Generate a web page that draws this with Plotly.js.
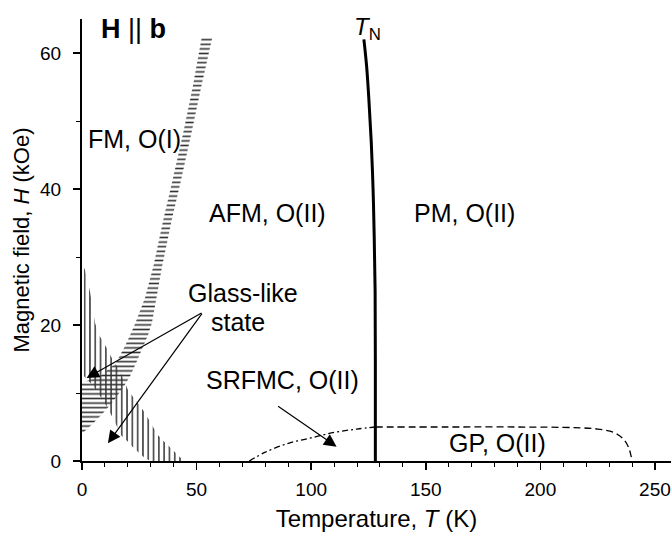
<!DOCTYPE html>
<html>
<head>
<meta charset="utf-8">
<script src="https://cdn.plot.ly/plotly-3.0.1.min.js"></script>
<style>html,body{margin:0;padding:0;background:#fff;}#chart{width:671px;height:536px;}</style>
</head>
<body>
<div id="chart"></div>
<script>
// ---- data ----
// Néel temperature line T_N(H)
const tnT = [128, 128, 127.9, 127.5, 127.0, 126.2, 125.2, 124.2, 123.0];
const tnH = [0, 15, 25, 33, 40, 47, 53, 58, 62];

// SRFMC boundary (dash-dot), T < T_N
const srT = [73, 80, 90, 100, 110, 120, 128];
const srH = [0, 1.3, 2.6, 3.4, 4.2, 4.7, 5.0];

// GP boundary (dashed), T > T_N
const gpT = [128, 160, 190, 215, 225, 232, 236, 238.5, 240];
const gpH = [5.0, 5.0, 5.0, 4.9, 4.7, 4.2, 3.3, 2.0, 0];

// FM/AFM hysteresis band (horizontal hatching): right edge upward, then left edge downward
const bandT = [0, 4.8, 9, 13.5, 18, 21, 23.6, 26.6, 28.8, 30.5, 32.5, 35, 39.2, 43, 47.8, 52, 56.8,
               52.2, 48.3, 44.2, 39.3, 35.5, 31.2, 27.5, 23.3, 21, 18.6, 14.8, 8, 0];
const bandH = [4.0, 5.5, 7.0, 8.7, 10.8, 12.5, 14.4, 16.8, 18.5, 20.3, 24, 28.7, 35.5, 41, 48.3, 55, 62.2,
               62.2, 55, 48.3, 41, 35.5, 28.7, 24, 20.3, 18.5, 16.8, 14.4, 12.5, 11.5];

// Glass-like region (vertical hatching): upper edge left→right, then lower edge right→left
const glassT = [0.8, 1.3, 3.5, 5.7, 7.5, 9.6, 11.3, 13.5, 15.7, 17.9, 20.1, 22.3, 24.4, 26.6, 28.8, 31, 33.2, 35.3, 37.5, 39.7, 41.9, 43.6, 44.5,
                30, 27.5, 24.6, 22, 19.5, 17, 14, 10, 5, 0.8];
const glassH = [28.5, 28.1, 24.9, 20.3, 18.5, 17.3, 16.3, 14.8, 13.7, 12.2, 10.4, 9.4, 8.5, 7.5, 6.3, 5.0, 3.8, 3.0, 2.3, 1.6, 0.8, 0.3, 0,
                0, 0.4, 1.3, 2.1, 3.0, 3.8, 6.0, 8.5, 11.0, 12.5];

// axis ticks
const xTicks = [0, 50, 100, 150, 200, 250];
const yTicks = [0, 20, 40, 60];

// phase labels [text, T, H, size]
const labels = [
  ['<b>H</b> || <b>b</b>', 22.3, 63.6, 27],
  ['FM, O(I)', 22.7, 47.3, 25],
  ['AFM, O(II)', 80.8, 36.5, 25],
  ['PM, O(II)', 167, 36.5, 25],
  ['Glass-like', 70.2, 24.7, 25],
  ['state', 67.9, 20.4, 25],
  ['SRFMC, O(II)', 87.4, 11.9, 25],
  ['GP, O(II)', 181.5, 2.6, 25],
  ['<i>T</i><sub>N</sub>', 124.5, 63.6, 24]
];

// arrows [tailT, tailH, headT, headH]
const arrows = [
  [52.8, 21.9, 2.0, 12.2],
  [52.8, 21.9, 11.3, 2.6],
  [84.9, 8.2, 111.1, 2.1]
];

// ---- traces ----
const traces = [
  {x: bandT, y: bandH, type: 'scatter', mode: 'none', fill: 'toself',
   fillcolor: 'rgba(0,0,0,0)',
   fillpattern: {shape: '-', size: 4.6, solidity: 0.35, fgcolor: '#333', bgcolor: 'rgba(0,0,0,0)'},
   hoverinfo: 'skip'},
  {x: glassT, y: glassH, type: 'scatter', mode: 'none', fill: 'toself',
   fillcolor: 'rgba(0,0,0,0)',
   fillpattern: {shape: '|', size: 5.3, solidity: 0.28, fgcolor: '#333', bgcolor: 'rgba(0,0,0,0)'},
   hoverinfo: 'skip'},
  {x: srT, y: srH, type: 'scatter', mode: 'lines',
   line: {color: '#000', width: 1.3, dash: '6px,3px,2px,3px', shape: 'spline'}},
  {x: gpT, y: gpH, type: 'scatter', mode: 'lines',
   line: {color: '#000', width: 1.3, dash: '7px,4px', shape: 'spline'}},
  {x: tnT, y: tnH, type: 'scatter', mode: 'lines',
   line: {color: '#000', width: 3, shape: 'spline'}}
];

const annotations = labels.map(l => ({
  text: l[0], x: l[1], y: l[2], xref: 'x', yref: 'y', showarrow: false,
  font: {size: l[3], color: '#000'}, align: 'center', xanchor: 'center', yanchor: 'middle'
})).concat(arrows.map(a => ({
  text: '', x: a[2], y: a[3], ax: a[0], ay: a[1], xref: 'x', yref: 'y', axref: 'x', ayref: 'y',
  showarrow: true, arrowhead: 2, arrowsize: 2.1, arrowwidth: 1.2, arrowcolor: '#000', standoff: 0
})));

const layout = {
  width: 671, height: 536,
  margin: {l: 82, r: 0, t: 19, b: 75, pad: 0},
  paper_bgcolor: '#fff', plot_bgcolor: '#fff',
  showlegend: false,
  font: {family: '"Liberation Sans", Arial, sans-serif', color: '#000'},
  xaxis: {
    range: [0, 257], tickmode: 'array', tickvals: xTicks, ticktext: xTicks.map(String),
    ticks: 'outside', ticklen: 7, tickwidth: 1.5, tickcolor: '#000',
    minor: {ticks: 'outside', ticklen: 4, tickwidth: 1, tickcolor: '#000', dtick: 10, tick0: 0},
    showline: true, linewidth: 2, linecolor: '#000', zeroline: false, showgrid: false,
    tickfont: {size: 19}, ticklabelstandoff: 3,
    title: {text: 'Temperature, <i>T</i> (K)', font: {size: 24}, standoff: 11}
  },
  yaxis: {
    range: [0, 65], tickmode: 'array', tickvals: yTicks, ticktext: yTicks.map(String),
    ticks: 'outside', ticklen: 7, tickwidth: 1.5, tickcolor: '#000',
    minor: {ticks: 'outside', ticklen: 4, tickwidth: 1, tickcolor: '#000', dtick: 10, tick0: 0},
    showline: true, linewidth: 2, linecolor: '#000', zeroline: false, showgrid: false,
    tickfont: {size: 19}, ticklabelstandoff: 8,
    title: {text: 'Magnetic field, <i>H</i> (kOe)', font: {size: 22}, standoff: 4}
  },
  annotations: annotations
};

Plotly.newPlot('chart', traces, layout, {staticPlot: true, displayModeBar: false});
</script>
</body>
</html>
